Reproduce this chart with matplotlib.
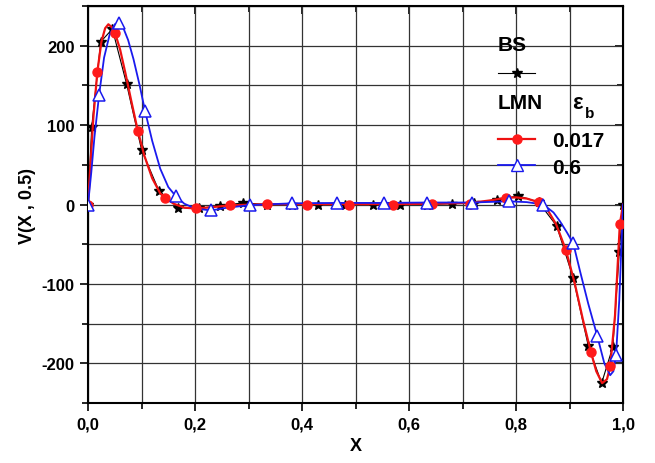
import matplotlib
matplotlib.use("Agg")
import matplotlib.pyplot as plt
from matplotlib.lines import Line2D
from matplotlib.ticker import MultipleLocator, FuncFormatter, NullFormatter

plt.rcParams['font.family'] = ['Liberation Sans', 'DejaVu Sans']
plt.rcParams['font.weight'] = 'bold'

# --- data ---
# BS (black stars)
bs_x = [0.0, 0.0069, 0.0237, 0.0455, 0.072, 0.100, 0.1327, 0.169, 0.207, 0.247,
        0.289, 0.335, 0.381, 0.430, 0.480, 0.533, 0.584, 0.633, 0.680, 0.722,
        0.764, 0.804, 0.842, 0.876, 0.907, 0.935, 0.960, 0.981, 0.993, 1.0]
bs_y = [0, 97.7, 205, 221, 152, 69, 17, -3.8, -5, -1.5,
        2, 0, 0, 0, 0, 0, 0, 0, 1, 1.5,
        5.4, 11, 3, -27, -93, -178, -225, -179, -60, 0]

# LMN eps_b = 0.017 (red) - curve
red_line_x = [0.0, 0.005, 0.010, 0.0174, 0.025, 0.032, 0.038, 0.045, 0.0505, 0.060,
              0.070, 0.080, 0.093, 0.105, 0.120, 0.135, 0.144, 0.160, 0.180, 0.201,
              0.230, 0.265, 0.335, 0.410, 0.490, 0.570, 0.640, 0.714, 0.750, 0.781,
              0.800, 0.820, 0.842, 0.860, 0.875, 0.893, 0.910, 0.925, 0.940, 0.950,
              0.961, 0.970, 0.976, 0.985, 0.994, 1.0]
red_line_y = [0, 55, 110, 167, 205, 222, 227, 223, 216, 195,
              165, 133, 93, 62, 33, 14, 8.8, 1, -4, -5,
              -3.5, -1, 0.4, 0.5, 0.5, 0.5, 1, 2, 5, 8.4,
              9, 7.5, 3, -8, -25, -57, -100, -145, -186, -210,
              -225, -220, -204, -140, -25, 0]
# red markers
red_x = [0.0, 0.0174, 0.0505, 0.093, 0.144, 0.201, 0.265, 0.334, 0.409, 0.488,
         0.570, 0.642, 0.714, 0.781, 0.842, 0.893, 0.940, 0.976, 0.994]
red_y = [0, 167, 216, 92.7, 8.8, -5, -1, 0.4, 0, 0,
         0, 1, 1, 8.4, 3.4, -57.5, -186, -204, -25]

# LMN eps_b = 0.6 (blue) - curve
blue_line_x = [0.0, 0.006, 0.012, 0.0206, 0.030, 0.040, 0.050, 0.058, 0.065, 0.075,
               0.085, 0.0965, 0.1065, 0.120, 0.135, 0.150, 0.164, 0.180, 0.200, 0.230,
               0.260, 0.303, 0.381, 0.465, 0.553, 0.633, 0.717, 0.787, 0.820, 0.851,
               0.870, 0.882, 0.895, 0.907, 0.920, 0.935, 0.952, 0.965, 0.976, 0.982,
               0.987, 0.993, 1.0]
blue_line_y = [0, 40, 85, 137.5, 185, 213, 227, 229, 224, 207,
               183, 150, 118, 80, 45, 22, 10.5, 1, -5, -7.5,
               -4, -0.8, 1.5, 2, 2, 2.5, 2.5, 4, 3, 0,
               -10, -21, -35, -49, -85, -125, -166, -200, -215, -210,
               -189, -120, 0]
# blue markers
blue_x = [0.0, 0.0206, 0.058, 0.1065, 0.164, 0.230, 0.303, 0.381, 0.465, 0.553,
          0.633, 0.717, 0.787, 0.851, 0.907, 0.952, 0.987]
blue_y = [0, 137.5, 228, 118, 10.5, -7.5, -0.8, 1.5, 2.5, 2.5,
          2.5, 2.5, 4, 0, -49, -166, -189]

# --- figure ---
fig = plt.figure(figsize=(6.55, 4.64), dpi=100)
ax = fig.add_axes([0.1344, 0.1293, 0.8168, 0.8556])

ax.plot(bs_x, bs_y, color='black', lw=0.8, marker='*', ms=7, zorder=3)
ax.plot(red_line_x, red_line_y, color='#ee1111', lw=1.6, zorder=4)
ax.plot(red_x, red_y, ls='none', marker='o', ms=6.5, color='#ff1a1a', zorder=5)
ax.plot(blue_line_x, blue_line_y, color='#1a1aee', lw=1.3, zorder=4)
ax.plot(blue_x, blue_y, ls='none', marker='^', ms=8, mfc='white', mec='#1a1aee',
        mew=1.1, zorder=6)

ax.set_xlim(0, 1)
ax.set_ylim(-250, 250)
ax.xaxis.set_major_locator(MultipleLocator(0.2))
ax.xaxis.set_minor_locator(MultipleLocator(0.1))
ax.yaxis.set_major_locator(MultipleLocator(100))
ax.yaxis.set_minor_locator(MultipleLocator(50))
ax.xaxis.set_major_formatter(FuncFormatter(lambda v, p: f"{v:.1f}".replace('.', ',')))
ax.yaxis.set_major_formatter(FuncFormatter(lambda v, p: f"{v:.0f}"))

ax.grid(True, which='both', color='#333333', lw=0.9)
ax.set_axisbelow(True)
ax.tick_params(which='both', labelsize=12, width=1.2, direction='out')
ax.tick_params(which='major', length=6)
ax.tick_params(which='minor', length=4)
for lab in ax.get_xticklabels() + ax.get_yticklabels():
    lab.set_fontweight('bold')
for s in ax.spines.values():
    s.set_linewidth(1.5)

# inward ticks on top and right
top = ax.secondary_xaxis('top')
top.xaxis.set_major_locator(MultipleLocator(0.2))
top.xaxis.set_minor_locator(MultipleLocator(0.1))
top.xaxis.set_major_formatter(NullFormatter())
top.tick_params(which='both', direction='in', width=1.2)
top.tick_params(which='major', length=6)
top.tick_params(which='minor', length=4)
right = ax.secondary_yaxis('right')
right.yaxis.set_major_locator(MultipleLocator(100))
right.yaxis.set_minor_locator(MultipleLocator(50))
right.yaxis.set_major_formatter(NullFormatter())
right.tick_params(which='both', direction='in', width=1.2)
right.tick_params(which='major', length=6)
right.tick_params(which='minor', length=4)

ax.set_xlabel('X', fontsize=13, fontweight='bold', labelpad=4)
ax.set_ylabel('V(X , 0.5)', fontsize=13, fontweight='bold', labelpad=4)

# --- legend ---
star_h = Line2D([], [], color='black', lw=0.8, marker='*', ms=7)
red_h = Line2D([], [], color='#ee1111', lw=1.6, marker='o', ms=6.5, mfc='#ff1a1a', mec='#ff1a1a')
blue_h = Line2D([], [], color='#1a1aee', lw=1.3, marker='^', ms=8, mfc='white', mec='#1a1aee')

leg1 = ax.legend([star_h], [''], loc='center left', bbox_to_anchor=(0.766, 0.826),
                 frameon=False, borderpad=0, borderaxespad=0, handlelength=1.8,
                 handletextpad=0, fontsize=15)
ax.add_artist(leg1)
leg2 = ax.legend([red_h, blue_h], ['0.017', '0.6'], loc='center left',
                 bbox_to_anchor=(0.766, 0.627), frameon=False, borderpad=0,
                 borderaxespad=0, handlelength=1.8, handletextpad=0.8,
                 labelspacing=0.35, prop={'size': 15, 'weight': 'bold'})

ax.text(0.766, 0.904, 'BS', transform=ax.transAxes, fontsize=15,
        fontweight='bold', va='center', ha='left')
ax.text(0.766, 0.756, 'LMN', transform=ax.transAxes, fontsize=15,
        fontweight='bold', va='center', ha='left')
ax.text(0.904, 0.756, 'ε', transform=ax.transAxes, fontsize=16,
        fontweight='bold', va='center', ha='left')
ax.text(0.929, 0.73, 'b', transform=ax.transAxes, fontsize=11,
        fontweight='bold', va='center', ha='left')

fig.savefig('out.png', dpi=100)
